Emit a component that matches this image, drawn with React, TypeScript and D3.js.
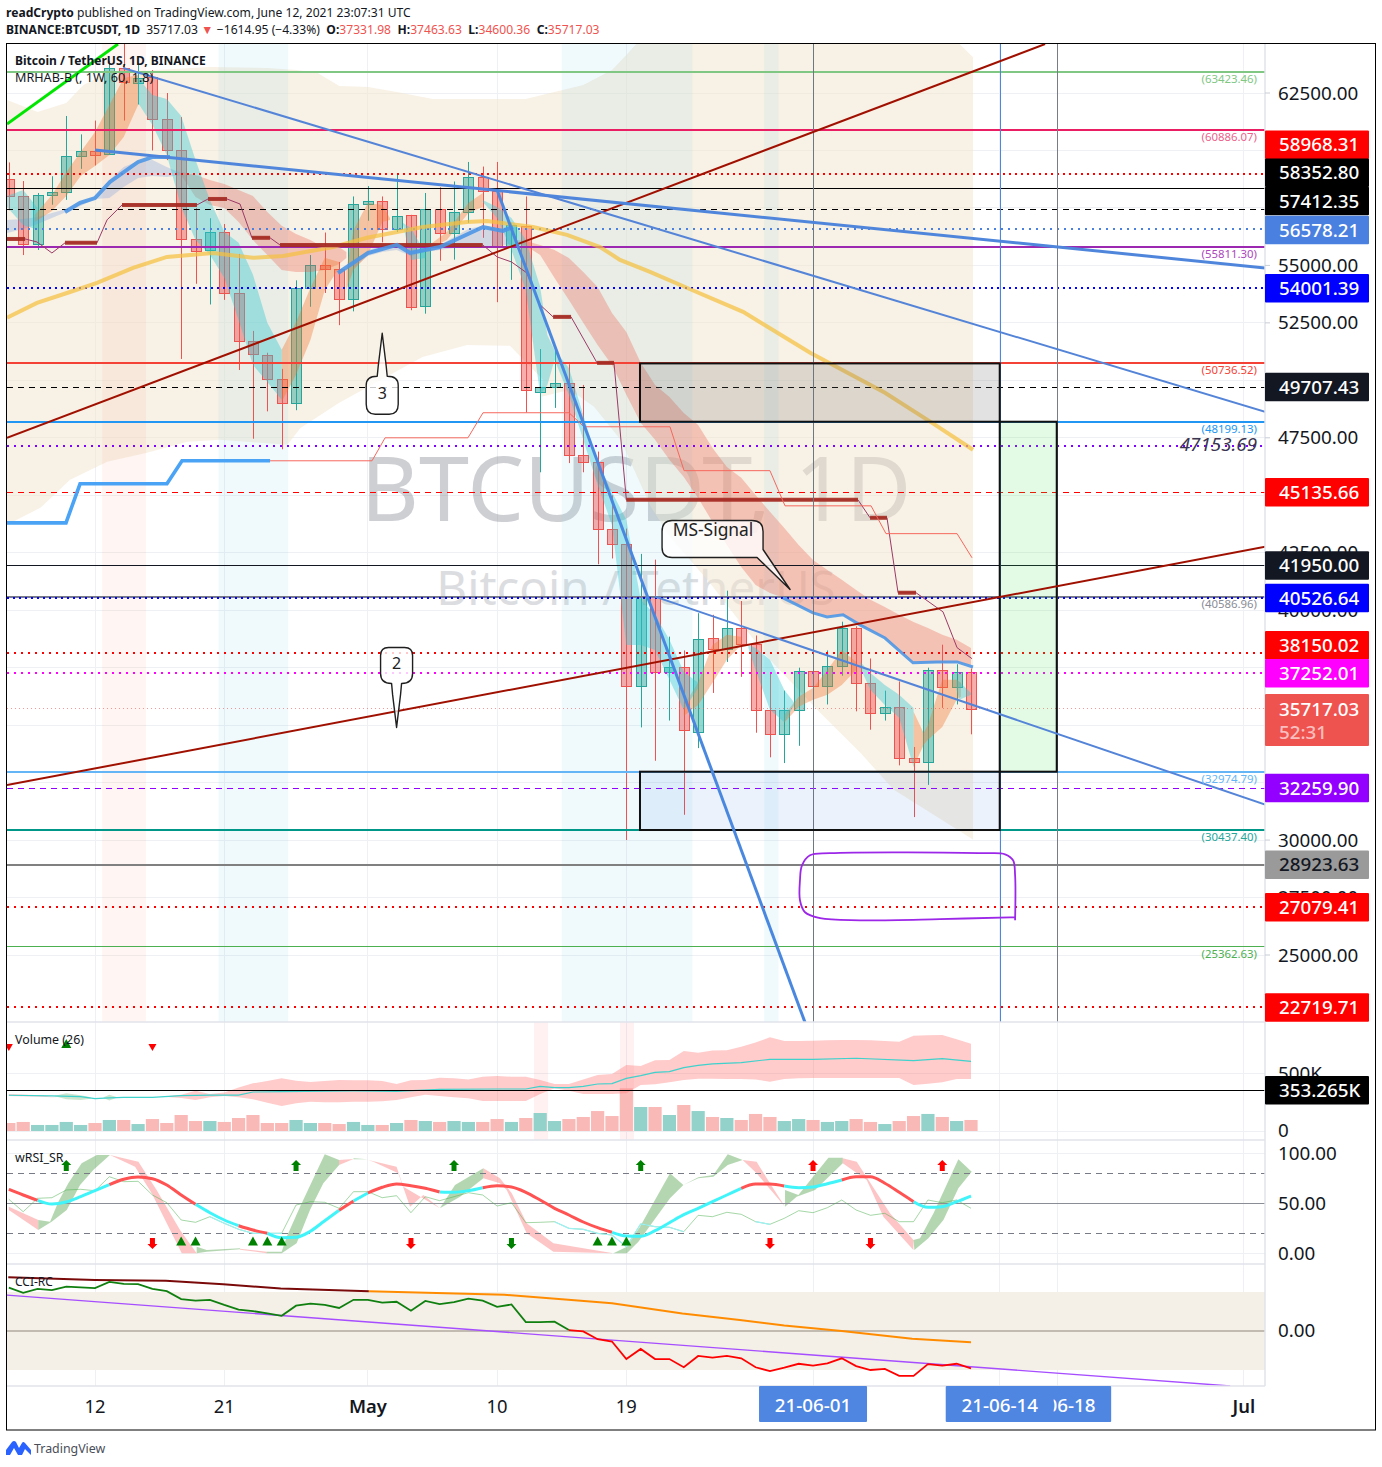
import React from "react";
import * as d3 from "d3";

// ---------- candles (prices in thousands, first candle is day -6, day 0 = 12 Apr)
const firstDay = -6;
const opens = [58.76,58,55.95,58.05,58.2,59.77,59.98,59.84,63.58,62.95,63.2,61.38,60,56.15,55.66,56.47,53.79,51.7,51.11,50.05,49,54,55.03,54.84,53.55,57.69,57.8,56.57,57.2,53.24,57.47,56.39,57.32,58.86,58.24,55.85,56.7,49.5,49.69,49.88,46.76,46.45,43.54,42.9,36.72,40.59,37.3,37.52,34.7,38.8,38.33,39.24,38.53,35.66,34.6,35.67,37.34,36.69,37.57,39.24,36.85,35.52,35.8,33.59,33.4,37.39,36.68,37.332];
const closes = [58,55.95,58.08,58.2,59.77,59.98,59.8,63.59,62.97,63.15,61.38,60,56.15,55.63,56.47,53.79,51.7,51.15,50.05,49,54,55.03,54.84,53.55,57.69,57.8,56.57,57.15,53.2,57.47,56.39,57.31,58.86,58.24,55.85,56.75,49.6,49.69,49.88,46.76,46.45,43.54,42.9,36.72,40.59,37.3,37.53,34.77,38.73,38.3,39.24,38.53,35.66,34.6,35.67,37.34,36.69,37.57,39.24,36.85,35.52,35.8,33.59,33.4,37.39,36.68,37.33,35.717];
const highs = [59.48,58.67,58.15,58.88,61.5,60.7,61.3,63.9,64.85,63.8,63.5,62.5,61.45,57.5,57.05,56.8,55.5,52.15,51.2,50.5,54.35,55.45,56.43,55.15,58,58.45,58,58.99,57.2,58.15,58.4,58.65,59.5,59.3,59.5,56.85,58,51.36,51.4,50.7,49.8,46.9,45,43.55,42.45,42.2,38.85,38.25,39.87,39.8,40.85,40.4,38.9,37.3,36.5,37.5,37.6,38.25,39.5,39.3,37.9,36.5,36.9,34.05,37.5,38.5,37.65,37.464];
const lows = [57.4,55.45,55.67,57.64,57.85,59.2,59.35,59.8,61.3,62,60,59.58,50.93,54.2,53.3,53.5,50.45,47.46,48.65,47,48.7,53.2,53.8,52.4,53,56.94,56,56.45,53.05,52.9,55.2,55.25,56.85,56.2,53.4,54.37,48.6,46,48.8,46.4,46,42,42.25,30,34.9,33.45,35.2,31.1,34,36.4,37.75,37.1,34.67,33.6,33.35,34.1,36.15,35.9,37.15,35.6,34.8,35.2,33.25,31,32.4,35.75,35.9,34.6];

// ---------- ribbons: [day, upper, lower]
type R = number[];
const creamTop: R[] = [[-6.13,62.2],[-4,61.67],[-2,62.07],[-0.8,62.85],[1,63.41],[3,63.46],[8,63.63],[12,63.59],[14,63.5],[15.5,63.37],[17,62.8],[19,62.76],[21,62.54],[23.5,62.24],[26,62.24],[30,62.24],[32,62.54],[34,62.85],[36,63.5],[37,64.15],[38.5,65.2],[59.5,65.2],[60.17,64.65],[61.14,64.05]];
const creamBottom: R[] = [[-6.13,43.72],[-3.8,44.46],[-1.74,45.67],[0.84,46.46],[3.62,46.85],[6.4,47.33],[8.7,47.41],[13.4,47.2],[14.3,47.93],[17,49.02],[22.8,51.02],[25.9,51.54],[28.9,51.5],[31.2,50.02],[31,49.28],[33.07,49.59],[34.75,48.85],[36.6,47.41],[38.7,44.5],[40.04,43.2],[42.8,41.2],[46.8,37.98],[50.5,35.54],[53.3,33.8],[55.6,32.2],[61.14,30.02]];
const tealRibbons: R[][] = [
  [[-6.13,58.02,57.54],[-5,58.28,56.76],[-4,57.5,56.55]],
  [[3,63.15,62.07],[4,62.41,61.11],[5,62.24,59.8],[6,61.5,57.54],[7,59.59,56.11],[8,57.85,55.46],[9,56.46,54.46],[10,55.98,52.63],[11,54.59,50.67],[12,52.5,49.93],[13,51.33,49.15]],
  [[21.45,56.85,56.76],[22,56.63,55.24],[23,55.54,55.32]],
  [[27,57.85,57.76],[28,57.54,57.06],[29,57.06,55.67],[30,56.1,53.93],[31,54.06,49.37],[31.5,51.97,49.8],[32,51.32,50.89],[33,50.54,49.37],[34,48.5,47.41],[35,46.4,45.45],[36,45.14,43.71],[37,43.93,38.49],[38,40.45,38.49],[39,39.8,38.27],[40,38.71,36.97],[41,37.32,35.66],[42,36.84,36.62]],
  [[45.5,38.49,38.36],[46,38.36,37.4],[47,37.84,35.67],[48,36.53,35.13],[48.7,35.97,35.88]],
  [[53.3,37.75,37.49],[54,37.27,36.53],[55,36.75,35.88],[56,36.32,35.32],[57,35.75,33.18]],
  [[60,36.97,36.53],[60.2,36.88,36.1],[61,36.4,36.32]],
];
const orangeRibbons: R[][] = [
  [[-4.2,57.19,56.89],[-3,58.06,57.37],[-2,59.06,58.02],[-1,59.93,58.89],[0,60.8,59.32],[1,61.98,59.8],[2,63.15,60.59],[3,63.28,61.98]],
  [[13,51.33,49.07],[14,52.54,50.24],[15,54.02,51.76],[16,55.33,53.93],[17,55.15,54.89]],
  [[17.5,54.8,53.93],[18,56.54,54.8],[19,57.72,55.45],[20,57.63,56.89],[20.54,57.06,56.97]],
  [[23.5,55.98,55.8],[24.5,56.45,56.1],[26,57.72,57.28],[27,58.15,57.54]],
  [[41,35.88,35.4],[42,36.84,35.88],[43,38.49,36.84],[44,38.93,37.84],[45,38.84,38.49]],
  [[48,35.45,35.1],[49,36.23,35.8],[50,36.62,36.1],[51,37.4,36.32],[52,38.27,36.75],[53,37.75,37.4]],
  [[57,35.58,33.18],[57.7,34.66,34.14],[58,35.01,34.36],[59,36.97,34.92],[60,36.97,36.1],[60.3,36.84,36.23]],
];
const salmonRibbons: R[][] = [
  [[6,59.06,58.93],[7,58.93,57.98],[8,58.72,57.63],[9,58.54,57.5],[10,58.28,56.89],[11,58.02,56.1],[12,57.32,55.45],[13,56.72,54.8],[14,56.37,54.71],[15,56.1,54.71],[16,55.76,54.8],[17,55.8,55.06],[17.5,55.58,55.32]],
  [[29.3,56.1,55.93],[30,56.06,55.85],[31,55.89,55.45],[32,55.67,54.45],[33,55.32,53.5],[34,54.71,52.5],[35,54.06,51.54],[36,52.93,50.67],[37,52.1,49.37],[38,50.76,48.15],[39,49.8,47.41],[40,49.28,46.54],[41,48.58,45.8],[42,48.06,44.88],[43,47.06,43.84],[44,46.23,42.84],[45,45.76,41.88],[46,45.01,41.1],[47,44.28,40.75],[48,43.58,40.53],[49,42.84,40.18],[50,42.18,39.92],[51,41.75,39.75],[52,41.32,39.8],[53,40.88,39.44],[54,40.45,39.14],[55,40.14,38.79],[56,39.8,38.27],[57,39.49,37.75],[58,39.23,37.71],[59,38.93,37.71],[60,38.71,37.75],[61,38.36,37.62]],
];
const blueRibbons: R[][] = [
  [[-6.13,56.98,56.41],[-5,57.02,56.58],[-4,57.11,56.8],[-3,57.28,57.06],[-2,57.45,57.32],[-1,57.71,57.58],[0,57.98,57.89],[1,58.72,57.93],[2,59.28,58.41],[3,59.54,58.8],[4,59.59,58.89],[5,59.28,58.85],[6,59.02,58.93]],
  [[18,55.15,54.89],[19,55.67,55.41],[20,55.85,55.58],[21,55.93,55.67],[22,55.67,55.41],[23,55.8,55.58],[24,55.89,55.67],[25,56.24,55.76],[26,56.58,55.76],[27,56.72,55.76],[28,56.58,55.85],[29,56.72,55.93]],
];
const blueThick: R[][] = [
  [[-2.09,57.32],[-1.04,57.72],[0,57.93],[1.04,58.63],[3,59.5],[4.04,59.72],[5.22,59.72]],
  [[16.92,54.67],[19,55.54],[21.03,55.89],[21.94,55.54],[24.02,55.8],[27.02,56.67],[28.41,56.5],[29.11,56.67]],
  [[47.91,40.54],[50,39.88],[50.98,39.71],[52.09,39.8],[53.27,39.36],[55.01,38.79],[56.96,37.71],[58.63,37.75],[60.03,37.75],[61.14,37.53]],
];
const yellowMA: R[] = [[-6.13,52.72],[-4.04,53.37],[-1.95,53.8],[0.14,54.24],[2.65,54.89],[5.01,55.37],[8.22,55.54],[11,55.33],[13.1,55.41],[16.6,55.8],[18.94,56.2],[22.84,56.67],[25.9,56.89],[27.3,56.93],[30.5,56.67],[32.87,56.33],[35.17,55.8],[36.56,55.24],[38.65,54.72],[41.57,53.93],[45.13,52.98],[49.8,51.2],[55.01,49.46],[58.29,48.15],[61.14,46.98]];
const signalThin: R[] = [[-6.13,56.15],[-4.87,56.15],[-4.04,56.02],[-3,55.54],[-2.09,55.98],[0.14,55.98],[0.84,56.98],[1.88,57.63],[7.1,57.63],[7.87,57.89],[9.19,57.89],[10.1,57.67],[10.93,56.2],[12.19,56.2],[12.88,55.89],[27,55.89],[28,55.37],[29,55.15],[30.08,54.67],[31,53.28],[31.9,52.76],[33.15,52.76],[34.96,50.76],[36.14,50.76],[37,44.8],[53.13,44.8],[53.97,44.02],[55.15,44.02],[55.92,40.76],[57.17,40.76],[58.63,40.11],[59.05,39.93],[60.03,38.37],[61.07,37.89]];
const signalThick: number[][] = [[-6.13,-4.87,56.15],[-2.09,0.14,55.98],[1.88,7.1,57.63],[7.87,9.19,57.89],[10.93,12.19,56.2],[12.88,27,55.89],[31.9,33.15,52.76],[34.96,36.14,50.76],[37,53.13,44.8],[53.97,55.15,44.02],[55.92,57.17,40.76]];
const blueSteps: R[] = [[-6.13,43.8],[-2.02,43.8],[-1.04,45.5],[5.01,45.5],[6.06,46.5],[12.19,46.5]];
const redSteps: R[] = [[12.19,46.5],[19.29,46.5],[20.2,47.5],[25.97,47.5],[27.02,48.59],[33.01,48.59],[34.05,47.98],[40.04,47.98],[41.02,46.07],[47,46.07],[48.05,44.54],[54.04,44.54],[55.08,43.33],[60.03,43.33],[61.07,42.28]];

// ---------- price levels
const levels: [number,string,number,string][] = [
  [63.42346,"#81c784",2,""],[60.88607,"#e91e63",2,""],[58.96831,"#ff0000",2,"2 4"],[58.3528,"#000000",1,""],[57.41235,"#000000",1,"6 5"],[56.57821,"#4a80e0",2,"2 5"],[55.8113,"#9c27b0",2,""],[54.00139,"#0000ff",2,"2 4"],[50.73652,"#f44336",2,""],[49.70743,"#000000",1,"6 5"],[48.19913,"#2196f3",2,""],[47.15369,"#8000ff",2,"2 5"],[45.13566,"#ff0000",1,"6 5"],[41.95,"#131722",1,""],[40.58696,"#787b86",2,""],[40.52664,"#0000ff",2,"2 4"],[38.15002,"#ff0000",2,"2 5"],[37.25201,"#ff00ff",2,"2 5"],[35.71703,"#ef5350",0.6,"1 3"],[32.97479,"#64b5f6",2,""],[32.2599,"#9400ff",1,"6 5"],[30.4374,"#009688",2,""],[28.92363,"#808080",1.5,""],[27.07941,"#ff0000",2,"2 5"],[25.36263,"#4caf50",1.5,""],[22.71971,"#ff0000",2,"2 5"],
];
const levelNotes: [number,string,string][] = [[63.42346,"(63423.46)","#81c784"],[60.88607,"(60886.07)","#ec5f8b"],[55.8113,"(55811.30)","#ab47bc"],[50.73652,"(50736.52)","#f44336"],[48.19913,"(48199.13)","#2196f3"],[40.58696,"(40586.96)","#8a8d96"],[32.97479,"(32974.79)","#64b5f6"],[30.4374,"(30437.40)","#26a69a"],[25.36263,"(25362.63)","#4caf50"]];
const axisTicks = [62.5,55,52.5,47.5,42.5,40,30,27.5,25];
const gridTicks = [62.5,60,57.5,55,52.5,50,47.5,45,42.5,40,37.5,35,32.5,30,27.5,25];
// tag position on the axis (labels are pushed apart so they do not collide), label, background, text colour
const priceTags: [number,string,string,string][] = [
  [60.25,"58968.31","#ff0000","#fff"],[59.03,"58352.80","#000000","#fff"],[57.8,"57412.35","#000000","#fff"],[56.54,"56578.21","#4a80e0","#fff"],[54.00139,"54001.39","#0000ff","#fff"],[49.70743,"49707.43","#131722","#fff"],[45.13566,"45135.66","#ff0000","#fff"],[41.95,"41950.00","#131722","#fff"],[40.52664,"40526.64","#0000ff","#fff"],[38.47,"38150.02","#ff0000","#fff"],[37.25201,"37252.01","#ff00ff","#fff"],[32.2599,"32259.90","#9400ff","#fff"],[28.92363,"28923.63","#9a9a9a","#131722"],[27.07941,"27079.41","#ff0000","#fff"],[22.71971,"22719.71","#ff0000","#fff"],
];
const trendLines: [number,number,number,number,string,number][] = [
  [-6.13,61.15,1.6,64.63,"#00e600",3],[-6.13,47.5,66.16,64.63,"#a01000",2],[-6.13,32.39,81.48,42.76,"#a01000",2],
  [1.95,63.59,81.48,48.63,"#5484d8",2],[0,60.02,81.48,54.89,"#4f86dc",3],[39,40.59,81.48,31.54,"#5484d8",2],[28,58.28,49.44,22.07,"#4a88e0",3],
];
const verticals: [number,string][] = [[50,"#6f7783"],[63,"#4a88e0"],[66.97,"#767c88"]];
const paleBlueBands = [[8.6,13.45],[32.5,41.6],[46.6,47.6]];
const paleRedBand = [0.5,3.55];
const boxes: [number,number,number,number,string][] = [[37.95,50.73652,63,48.19913,"rgba(110,110,110,0.2)"],[37.95,32.97479,63,30.4374,"rgba(40,110,220,0.09)"],[63,48.19913,66.97,32.97479,"rgba(60,230,70,0.14)"]];
const scribble: R[] = [[64.07,26.51],[64.07,28.47],[63.93,29.12],[63.37,29.38],[61.98,29.43],[51.18,29.43],[49.79,29.34],[49.23,28.9],[49.09,28.25],[49.09,27.38],[49.44,26.86],[50.49,26.6],[53.27,26.51],[58.84,26.56],[63.72,26.64],[64.07,26.64]];

// ---------- volume (thousands)
const volumes = [69,78,52,52,78,52,69,95,95,60,103,69,138,86,86,78,112,138,69,69,95,69,69,60,78,52,52,69,95,86,78,86,78,78,103,78,112,155,86,103,121,172,129,368,207,207,138,224,172,121,112,95,147,121,86,103,95,78,86,103,78,60,86,129,147,121,86,95];
const volUp = [0,0,1,1,1,1,0,1,0,1,0,0,0,0,1,0,0,0,0,0,1,1,0,0,1,1,0,1,0,1,0,1,1,0,0,1,0,1,1,0,0,0,0,0,1,0,1,0,1,0,1,0,0,0,1,1,0,1,1,0,0,1,0,0,1,0,1,0];
const volPink: R[] = [[-6,319,302],[-3.8,308,296],[-3,296,290],[-2.6,293,293]];
const volPink2: R[] = [[5,299,293],[6,313,285],[7,348,267],[8,319,290],[9,331,302],[10,374,290],[11,411,273],[12,431,244],[13,454,216],[14,434,239],[15,422,253],[16,431,247],[17,440,247],[18,437,253],[19,437,253],[20,431,256],[21,405,267],[22,437,290],[23,440,313],[24,460,302],[25,454,290],[26,445,282],[27,468,259],[28,474,259],[29,468,259],[30,468,259],[31,440,319],[32,405,368],[33,405,348],[34,445,319],[35,483,319],[36,491,319],[37,569,325],[38,560,397],[39,609,402],[40,612,420],[41,690,440],[42,675,451],[43,693,451],[44,696,448],[45,727,448],[46,762,445],[47,808,425],[48,776,448],[49,776,454],[50,779,457],[51,782,457],[52,785,457],[53,785,457],[54,782,457],[55,776,457],[56,770,457],[57,822,397],[58,825,408],[59,828,420],[60,790,448],[61,753,448]];
const volGreen: R[][] = [[[-2.8,303,300],[-2,325,273],[-1,308,267],[-0.3,290,279]],[[0.6,290,285],[1,313,262],[1.5,293,287]]];
const volMean: R[] = [[-6,308],[-3,302],[-1,296],[0,279],[1,285],[2,290],[4,290],[6,305],[8,310],[10,310],[11,336],[13,339],[18,345],[21,342],[24,359],[28,362],[30,362],[31,385],[32,374],[33,374],[34,385],[35,405],[36,408],[37,454],[38,477],[39,506],[40,512],[41,546],[42,566],[43,578],[45,589],[47,618],[50,618],[53,627],[57,606],[59,624],[61,601]];
const volRedBands = [[30.57,31.55],[36.56,37.53]];
const volMarkers: [number,string,string][] = [[-6,"down","#ff0000"],[-2,"up","#008000"],[4,"down","#ff0000"]];

// ---------- wRSI
const rsiMA = [63.7,58,52.7,49,51,56.3,62.3,68.3,73.7,76,74.3,68,58,48.7,40.3,33,27.3,23,19.7,15.3,15.7,21.7,32.3,42.7,52,60,65.7,69,67.3,64.7,61,60.7,62.3,65.3,67.3,66,60.7,53,44.7,38,31,25.3,20.7,17,16.7,22.3,30.3,38.3,44.7,51.3,58,64.7,69,69,67,65.3,66,69.3,73,76.3,76.3,69.7,60.7,51.3,45.7,46.3,51.3,57];
const rsiTurns = [-4,1,7,10,12,17,18,19,24,27,36,45,48,52,57];
const rsiThin = [53.7,41.3,54.7,55.3,63,63.7,62.3,76.3,71.3,71.7,58,50.3,33,30.7,36.3,29.7,23.7,19.7,19.7,19.7,48,51.3,50.7,44.7,61.3,61.3,55.3,57.3,40.3,56.3,52.3,56.3,60.3,58,47,50.3,30.3,30.7,31.3,24.7,23.7,19.7,18,6.3,29,26.3,25.7,21.3,37.7,36.3,40.7,38.7,31.3,28.7,34.7,42.3,40.3,45.3,53,43,37.7,39.7,31.3,31.3,53,50.3,53,44.7];
const rsiThinCyan = [[8,13],[32,41],[46,47]];
const rsiGreen: R[][] = [
  [[-3.95,33],[-3.13,31.3],[-2.55,51.3],[-1.86,69.7],[-0.93,89.7],[0.12,98],[1.04,98],[-0.12,83],[-1.04,68],[-1.97,43],[-3.02,31.3],[-3.95,23]],
  [[7.08,6.3],[7.78,3],[10.1,4.7],[10.1,3.7],[7.78,1.3],[7.08,-0.3]],
  [[11.95,1.3],[13,1.3],[13.35,16.3],[14.28,46.3],[16,98.7],[17,93],[17,88],[15.9,69.7],[14.97,43],[14.04,9.7],[13,-0.3],[11.95,-0.3]],
  [[18,94.7],[19,93.7],[18,93.7]],
  [[24.02,44.7],[25.07,68],[27.04,84.7],[27.04,74.7],[25.42,56.3]],
  [[36.1,-0.3],[37.03,6.3],[37.95,26.3],[40.04,79.7],[40.97,68],[42.01,75.7],[43.06,78],[44.06,98.7],[45.1,93],[44.06,88],[43.06,76.3],[42.01,74.7],[40.97,68],[40.04,54.7],[37.84,11.3],[37.03,-0.3]],
  [[48.05,63],[48.98,58],[51.07,95.3],[52.07,95.3],[52.07,89.7],[50.14,63],[48.86,56.3],[48.05,46.3]],
  [[56.99,13],[57.45,14.7],[58.39,39.7],[60.12,93.7],[61.05,81.3],[60.12,64.7],[59.08,33],[58.03,14.7],[57.06,3]],
];
const rsiPink: R[][] = [
  [[-6,46.3],[-3.95,33],[-3.95,23],[-6,43]],
  [[1.04,98],[3.02,91.3],[4.29,63],[5.92,23],[7.08,-0.3],[6.04,-0.3],[3.95,59.7],[2.79,86.3]],
  [[10.1,4.3],[11.95,1.3],[11.95,-0.3],[10.1,3.3]],
  [[17,93],[18,94],[17,88]],
  [[19.03,93],[21,86.3],[21.47,66.3],[24.02,44.7],[22.86,58],[21.94,46.3],[21.12,79.7],[19.38,91.3]],
  [[27.04,84.7],[28.2,74.7],[29.02,59.7],[30.06,29.7],[31.92,9.7],[36.1,-0.3],[31.92,1.3],[30.06,19.7],[28.67,63],[28.2,69.7],[27.04,74.7]],
  [[45.1,93],[46.07,91.3],[47,69.7],[48.05,46.3],[46.07,79.7]],
  [[52.07,94.7],[53.04,91.3],[55.36,39.7],[56.99,13],[56.99,3],[54.9,36.3],[53.74,73],[52.07,89.7]],
];
const arrowsUpGreen = [-2,14,25,38];
const arrowsUpRed = [50,59];
const arrowsDownRed = [4,22,47,54];
const arrowsDownGreen = [29];
const trianglesGreen = [6,7,11,12,13,35,36,37];

// ---------- CCI
const cci = [111,98,108,105,114,112,110,126,121,120,108,102,82,78,80,67,55,51,45,39,65,70,67,59,80,80,73,75,52,77,69,74,83,78,62,68,23,23,24,2.5,-1,-21,-27,-72,-46,-72,-72,-93,-64,-68,-64,-70,-93,-103,-94,-84,-89,-83,-70,-90,-100,-97,-115,-115,-85,-89,-84,-96];
const cciTurnDay = 33;
const cciMA: R[] = [[-6.04,138],[0,131],[4.93,129],[8.93,120],[12.93,109],[19.07,102],[28.5,93],[33.4,79],[36,71],[40.9,45],[44.9,28],[48,14],[52,0],[56.9,-20],[61,-29]];
const cciMATurnDay = 19.07;
const cciTrend: R[] = [[-6.13,92],[79.05,-141]];

// ---------- axis labels
const dateTicks: [number,string,boolean][] = [[0,"12",false],[9,"21",false],[19,"May",true],[28,"10",false],[37,"19",false],[80,"Jul",true]];
const dateGrid = [0,9,19,28,37,50,63,67,80];
const dateTags: [number,string][] = [[50,"21-06-01"],[67,"21-06-18"],[63,"21-06-14"]];

// ---------- frame
const L = 7, R_ = 1265, W = 1382, H = 1467;
const mainTop = 44, mainBottom = 1022, volBottom = 1140, rsiBottom = 1264, cciBottom = 1386, frameBottom = 1430;
const FONT = "'Noto Sans', sans-serif";

const x = d3.scaleLinear().domain([0, 61]).range([95, 971]);
const y = d3.scaleLinear().domain([62.5, 25]).range([93, 955]);
const yv = d3.scaleLinear().domain([0, 500]).range([1131, 1073]);
const yr = d3.scaleLinear().domain([0, 100]).range([1253, 1153]);
const yc = d3.scaleLinear().domain([100, -100]).range([1292, 1370]);

const poly = (pts: R[], ys: (v: number) => number) =>
  "M" + pts.map((p) => `${x(p[0])},${ys(p[1])}`).join("L") + "Z";
const lineOf = (ys: (v: number) => number) =>
  d3.line<R>().x((p) => x(p[0])).y((p) => ys(p[1]));
const band = (ys: (v: number) => number) =>
  d3.area<R>().x((p) => x(p[0])).y0((p) => ys(p[2])).y1((p) => ys(p[1]));
const bySeries = (vals: number[]): R[] => vals.map((v, i) => [firstDay + i, v]);

function Txt(p: any) {
  return <text fontFamily={FONT} {...p} />;
}

function Callout({ d, k, kind }: { d: number; k: number; kind: string }) {
  const ax = x(d), ay = y(k);
  let path = "";
  if (kind === "up") {
    path = `M${ax},${ay} L${ax + 4},${ay + 33} L${ax + 5},${ay + 43} Q${ax + 16},${ay + 43} ${ax + 16},${ay + 52} L${ax + 16},${ay + 71} Q${ax + 16},${ay + 81} ${ax + 7},${ay + 81} L${ax - 7},${ay + 81} Q${ax - 16},${ay + 81} ${ax - 16},${ay + 71} L${ax - 16},${ay + 52} Q${ax - 16},${ay + 43} ${ax - 5},${ay + 43} L${ax - 4},${ay + 33} Z`;
  } else if (kind === "down") {
    path = `M${ax},${ay} L${ax - 4},${ay - 33} L${ax - 5},${ay - 44} Q${ax - 16},${ay - 44} ${ax - 16},${ay - 54} L${ax - 16},${ay - 72} Q${ax - 16},${ay - 80} ${ax - 8},${ay - 80} L${ax + 8},${ay - 80} Q${ax + 16},${ay - 80} ${ax + 16},${ay - 72} L${ax + 16},${ay - 54} Q${ax + 16},${ay - 44} ${ax + 5},${ay - 44} L${ax + 4},${ay - 33} Z`;
  } else {
    path = `M${ax},${ay} L${ax - 33},${ay - 32} L${ax - 118},${ay - 32} Q${ax - 128},${ay - 32} ${ax - 128},${ay - 42} L${ax - 128},${ay - 58} Q${ax - 128},${ay - 69} ${ax - 118},${ay - 69} L${ax - 38},${ay - 69} Q${ax - 27},${ay - 69} ${ax - 27},${ay - 58} L${ax - 27},${ay - 40} Z`;
  }
  return <path d={path} fill="rgba(255,255,255,0.78)" stroke="#1f1f1f" strokeWidth={1.4} strokeLinejoin="round" />;
}

const arrowPath = (cx: number, cy: number, up: boolean) => {
  const s = up ? 1 : -1;
  return `M${cx},${cy - 6 * s} L${cx + 5},${cy - 1 * s} L${cx + 2.5},${cy - 1 * s} L${cx + 2.5},${cy + 5 * s} L${cx - 2.5},${cy + 5 * s} L${cx - 2.5},${cy - 1 * s} L${cx - 5},${cy - 1 * s} Z`;
};
const triUp = (cx: number, cy: number) => `M${cx},${cy - 5} L${cx + 5},${cy + 4} L${cx - 5},${cy + 4} Z`;
const triDown = (cx: number, cy: number) => `M${cx - 4},${cy - 3} L${cx + 4},${cy - 3} L${cx},${cy + 4} Z`;

export default function App() {
  const candles = opens.map((o, i) => ({ d: firstDay + i, o, c: closes[i], h: highs[i], l: lows[i] }));
  const volBars = volumes.map((v, i) => ({ d: firstDay + i, v, up: volUp[i] }));
  const creamPath = "M" + creamTop.map((p) => `${x(p[0])},${y(p[1])}`).join("L") + "L" + [...creamBottom].reverse().map((p) => `${x(p[0])},${y(p[1])}`).join("L") + "Z";
  const rsiSeries = bySeries(rsiMA);
  const turns = [firstDay, ...rsiTurns, 61];
  const thinSeries = bySeries(rsiThin);
  const cciSeries = bySeries(cci);
  const ly = lineOf(y), lv = lineOf(yv), lr = lineOf(yr), lc = lineOf(yc);
  const ay = band(y), av = band(yv);
  const tag = (cy: number, h = 28.5) => ({ x: R_, y: cy - h / 2, width: 104, height: h, rx: 1 });
  const scribblePath = d3.line<R>().x((p) => x(p[0])).y((p) => y(p[1])).curve(d3.curveCatmullRom.alpha(0.5));

  return (
    <svg width={W} height={H} style={{ position: "absolute", left: 0, top: 0, background: "#fff" }}>
      <defs>
        <clipPath id="main"><rect x={L} y={mainTop} width={R_ - L} height={mainBottom - mainTop} /></clipPath>
        <clipPath id="vol"><rect x={L} y={mainBottom} width={R_ - L} height={volBottom - mainBottom} /></clipPath>
        <clipPath id="rsi"><rect x={L} y={volBottom} width={R_ - L} height={rsiBottom - volBottom} /></clipPath>
        <clipPath id="cci"><rect x={L} y={rsiBottom} width={R_ - L} height={cciBottom - rsiBottom} /></clipPath>
      </defs>

      {/* header */}
      <Txt x={6} y={17} fontSize={12.1} fill="#131722"><tspan fontWeight={700}>readCrypto</tspan> published on TradingView.com, June 12, 2021 23:07:31 UTC</Txt>
      <Txt x={6} y={34} fontSize={12.1} fill="#131722">
        <tspan fontWeight={700}>BINANCE:BTCUSDT, 1D</tspan>
        <tspan dx={6}>35717.03</tspan>
        <tspan dx={3.5} fill="#ef5350">▼</tspan>
        <tspan dx={3.5}>−1614.95 (−4.33%)</tspan>
        <tspan dx={6.5} fontWeight={700}>O:</tspan><tspan fill="#ef5350">37331.98</tspan>
        <tspan dx={6.5} fontWeight={700}>H:</tspan><tspan fill="#ef5350">37463.63</tspan>
        <tspan dx={6.5} fontWeight={700}>L:</tspan><tspan fill="#ef5350">34600.36</tspan>
        <tspan dx={6.5} fontWeight={700}>C:</tspan><tspan fill="#ef5350">35717.03</tspan>
      </Txt>

      {/* grid */}
      <g stroke="#eef0f3" strokeWidth={1} shapeRendering="crispEdges">
        {gridTicks.map((t) => <line key={t} x1={L} x2={R_} y1={y(t)} y2={y(t)} />)}
        {dateGrid.map((d) => <line key={d} x1={x(d)} x2={x(d)} y1={mainTop} y2={cciBottom} />)}
        <line x1={L} x2={R_} y1={yv(500)} y2={yv(500)} />
        <line x1={L} x2={R_} y1={yv(0)} y2={yv(0)} />
        <line x1={L} x2={R_} y1={yr(100)} y2={yr(100)} />
        <line x1={L} x2={R_} y1={yr(0)} y2={yr(0)} />
      </g>

      {/* main pane */}
      <g clipPath="url(#main)">
        <Txt x={636} y={521} textAnchor="middle" fontSize={90} fill="#787b86" opacity={0.36}>BTCUSDT, 1D</Txt>
        <Txt x={636} y={605} textAnchor="middle" fontSize={47.5} fill="#787b86" opacity={0.25}>Bitcoin / TetherUS</Txt>
        <path d={creamPath} fill="#f1e3cc" fillOpacity={0.5} />
        {paleBlueBands.map((b, i) => <rect key={i} x={x(b[0])} width={x(b[1]) - x(b[0])} y={mainTop} height={mainBottom - mainTop} fill="rgba(130,215,240,0.12)" />)}
        <rect x={x(paleRedBand[0])} width={x(paleRedBand[1]) - x(paleRedBand[0])} y={mainTop} height={mainBottom - mainTop} fill="rgba(255,170,150,0.12)" />

        {/* candles */}
        {candles.map((c) => {
          const col = c.c >= c.o ? "#26a69a" : "#ef5350";
          const cx = Math.round(x(c.d)) + 0.5;
          const top = Math.round(y(Math.max(c.o, c.c))) + 0.5;
          const bot = Math.round(y(Math.min(c.o, c.c))) + 0.5;
          return (
            <g key={c.d}>
              <line x1={cx} x2={cx} y1={y(c.h)} y2={y(c.l)} stroke={col} strokeWidth={1} />
              <rect x={cx - 5} width={10} y={top} height={Math.max(bot - top, 1)} fill={col} fillOpacity={0.47} stroke={col} strokeWidth={1} />
            </g>
          );
        })}

        {/* ribbons */}
        {blueRibbons.map((r, i) => <path key={i} d={ay(r as any)!} fill="rgba(90,140,220,0.24)" />)}
        {salmonRibbons.map((r, i) => <path key={i} d={ay(r as any)!} fill="rgba(235,90,70,0.31)" />)}
        {orangeRibbons.map((r, i) => <path key={i} d={ay(r as any)!} fill="rgba(240,120,50,0.38)" />)}
        {tealRibbons.map((r, i) => <path key={i} d={ay(r as any)!} fill="rgba(50,200,210,0.4)" />)}

        {/* levels */}
        <g shapeRendering="crispEdges">
          {levels.map(([v, col, w, dash]) => <line key={v} x1={L} x2={R_} y1={y(v)} y2={y(v)} stroke={col} strokeWidth={w} strokeDasharray={dash || undefined} />)}
        </g>

        {/* MAs and steps */}
        <path d={ly(yellowMA as any)!} fill="none" stroke="#f5c040" strokeOpacity={0.72} strokeWidth={4} />
        <path d={ly(signalThin as any)!} fill="none" stroke="#9c3a66" strokeWidth={1} />
        {signalThick.map((s, i) => <line key={i} x1={x(s[0])} x2={x(s[1])} y1={y(s[2])} y2={y(s[2])} stroke="#a52a20" strokeOpacity={0.9} strokeWidth={4} />)}
        <path d={ly(blueSteps as any)!} fill="none" stroke="#4aa3f5" strokeWidth={3.6} />
        <path d={ly(redSteps as any)!} fill="none" stroke="#f6685e" strokeWidth={1} />
        {blueThick.map((r, i) => <path key={i} d={ly(r as any)!} fill="none" stroke="#4c96e6" strokeWidth={i === 2 ? 3 : 4} strokeOpacity={0.9} />)}

        {/* verticals */}
        {verticals.map(([d, col]) => <line key={d} x1={Math.round(x(d)) + 0.5} x2={Math.round(x(d)) + 0.5} y1={mainTop} y2={mainBottom} stroke={col} strokeWidth={1} />)}

        {/* drawings */}
        {boxes.map(([a, b, c, e, fill], i) => (
          <rect key={i} x={x(a)} y={y(b)} width={x(c) - x(a)} height={y(e) - y(b)} fill={fill} stroke="#111" strokeWidth={2} />
        ))}
        {trendLines.map(([a, b, c, e, col, w], i) => (
          <line key={i} x1={x(a)} y1={y(b)} x2={x(c)} y2={y(e)} stroke={col} strokeWidth={w} />
        ))}
        <path d={scribblePath(scribble as any)!} fill="none" stroke="#9c27e8" strokeWidth={1.8} strokeLinejoin="round" />

        <Callout d={20} k={52.05} kind="up" />
        <Txt x={x(20)} y={y(49.18)} textAnchor="middle" fontSize={16} fill="#222">3</Txt>
        <Callout d={21} k={34.9} kind="down" />
        <Txt x={x(21)} y={y(37.43)} textAnchor="middle" fontSize={16} fill="#222">2</Txt>
        <Callout d={48.4} k={40.9} kind="ms" />
        <Txt x={713} y={536} textAnchor="middle" fontSize={17.4} fill="#222">MS-Signal</Txt>
        <Txt x={1257} y={451} textAnchor="end" fontSize={18.8} fontStyle="italic" fill="#3a3550">47153.69</Txt>
        {levelNotes.map(([v, s, col]) => <Txt key={s} x={1257} y={y(v) + 11} textAnchor="end" fontSize={11.4} fill={col}>{s}</Txt>)}
      </g>
      <Txt x={15} y={65} fontSize={12} fontWeight={700} fill="#131722">Bitcoin / TetherUS, 1D, BINANCE</Txt>
      <Txt x={15} y={82} fontSize={12.6} fill="#131722">MRHAB-B (, 1W, 60, 1.8)</Txt>

      {/* volume */}
      <g clipPath="url(#vol)">
        {volRedBands.map((b, i) => <rect key={i} x={x(b[0])} width={x(b[1]) - x(b[0])} y={mainBottom} height={volBottom - mainBottom} fill="rgba(255,82,82,0.08)" />)}
        {volBars.map((b) => <rect key={b.d} x={x(b.d) - 6.6} width={13.2} y={yv(b.v)} height={yv(0) - yv(b.v)} fill={b.up ? "#92d2ca" : "#f9b9b7"} />)}
        <path d={av(volPink as any)!} fill="rgba(255,130,130,0.42)" />
        <path d={av(volPink2 as any)!} fill="rgba(255,130,130,0.42)" />
        {volGreen.map((r, i) => <path key={i} d={av(r as any)!} fill="rgba(90,170,90,0.3)" />)}
        <path d={lv(volMean as any)!} fill="none" stroke="#3fd2cc" strokeWidth={1.2} />
        <line x1={L} x2={R_} y1={yv(353.265)} y2={yv(353.265)} stroke="#000" strokeWidth={1} shapeRendering="crispEdges" />
        {volMarkers.map(([d, kind, col], i) => (
          <path key={i} d={kind === "down" ? triDown(x(d), 1047) : triUp(x(d), 1044)} fill={col} />
        ))}
      </g>
      <Txt x={15} y={1044} fontSize={12.4} fill="#131722">Volume (26)</Txt>

      {/* wRSI */}
      <g clipPath="url(#rsi)">
        {rsiGreen.map((r, i) => <path key={i} d={poly(r, yr)} fill="rgba(76,160,70,0.42)" />)}
        {rsiPink.map((r, i) => <path key={i} d={poly(r, yr)} fill="rgba(250,110,110,0.4)" />)}
        <g shapeRendering="crispEdges">
          <line x1={L} x2={R_} y1={yr(80)} y2={yr(80)} stroke="#787b86" strokeWidth={1} strokeDasharray="6 5" />
          <line x1={L} x2={R_} y1={yr(20)} y2={yr(20)} stroke="#787b86" strokeWidth={1} strokeDasharray="6 5" />
          <line x1={L} x2={R_} y1={yr(50)} y2={yr(50)} stroke="#8a8d96" strokeWidth={1} />
        </g>
        <path d={lr(thinSeries as any)!} fill="none" stroke="rgba(76,175,80,0.5)" strokeWidth={1} />
        {rsiThinCyan.map(([a, b], i) => (
          <path key={i} d={lr(thinSeries.filter((p) => p[0] >= a && p[0] <= b) as any)!} fill="none" stroke="#9df1f4" strokeWidth={1.2} />
        ))}
        {turns.slice(0, -1).map((t, i) => {
          const next = turns[i + 1];
          return <path key={i} d={d3.line<R>().x((p) => x(p[0])).y((p) => yr(p[1])).curve(d3.curveMonotoneX)(rsiSeries.filter((p) => p[0] >= t && p[0] <= next) as any)!} fill="none" stroke={i % 2 === 0 ? "#ff5252" : "#40f4fa"} strokeWidth={3} />;
        })}
        {trianglesGreen.map((d) => <path key={d} d={triUp(x(d), 1241.5)} fill="#008000" />)}
        {arrowsUpGreen.map((d) => <path key={d} d={arrowPath(x(d), 1166, true)} fill="#008000" />)}
        {arrowsUpRed.map((d) => <path key={d} d={arrowPath(x(d), 1166, true)} fill="#ff0000" />)}
        {arrowsDownRed.map((d) => <path key={d} d={arrowPath(x(d), 1243, false)} fill="#ff0000" />)}
        {arrowsDownGreen.map((d) => <path key={d} d={arrowPath(x(d), 1243, false)} fill="#008000" />)}
      </g>
      <Txt x={15} y={1162} fontSize={12.4} fill="#131722">wRSI_SR</Txt>

      {/* CCI */}
      <g clipPath="url(#cci)">
        <rect x={L} width={R_ - L} y={yc(100)} height={yc(-100) - yc(100)} fill="#f4efe7" />
        <line x1={L} x2={R_} y1={yc(0)} y2={yc(0)} stroke="#b0aaa0" strokeWidth={1.4} />
        <path d={lc(cciTrend as any)!} fill="none" stroke="#a64dff" strokeWidth={1.4} />
        <path d={lc(cciMA.filter((p) => p[0] <= cciMATurnDay) as any)!} fill="none" stroke="#7a0a0a" strokeWidth={2} />
        <path d={lc(cciMA.filter((p) => p[0] >= cciMATurnDay) as any)!} fill="none" stroke="#ff8c00" strokeWidth={2} />
        <path d={lc(cciSeries.filter((p) => p[0] <= cciTurnDay) as any)!} fill="none" stroke="#0f7f0f" strokeWidth={1.8} />
        <path d={lc(cciSeries.filter((p) => p[0] >= cciTurnDay) as any)!} fill="none" stroke="#ff0000" strokeWidth={1.8} />
      </g>
      <Txt x={15} y={1286} fontSize={12} fill="#131722">CCI-RC</Txt>

      {/* pane separators */}
      <g stroke="#e0e3eb" strokeWidth={1.5}>
        <line x1={L} x2={R_} y1={mainBottom} y2={mainBottom} />
        <line x1={L} x2={R_} y1={volBottom} y2={volBottom} />
        <line x1={L} x2={R_} y1={rsiBottom} y2={rsiBottom} />
        <line x1={L} x2={R_} y1={cciBottom} y2={cciBottom} />
        <line x1={R_} x2={R_} y1={mainTop} y2={cciBottom} />
      </g>

      {/* right axis */}
      {axisTicks.map((t) => (
        <g key={t}>
          <line x1={R_} x2={R_ + 5} y1={y(t)} y2={y(t)} stroke="#c8ccd4" />
          <Txt x={1278} y={y(t) + 6.5} fontSize={18.8} fill="#131722">{(t * 1000).toFixed(2)}</Txt>
        </g>
      ))}
      <Txt x={1278} y={yv(500) + 7} fontSize={18.8} fill="#131722">500K</Txt>
      <Txt x={1278} y={yv(0) + 6} fontSize={18.8} fill="#131722">0</Txt>
      {[100, 50, 0].map((t) => <Txt key={t} x={1278} y={yr(t) + 6.5} fontSize={18.8} fill="#131722">{t.toFixed(2)}</Txt>)}
      <Txt x={1278} y={yc(0) + 6} fontSize={18.8} fill="#131722">0.00</Txt>
      {priceTags.map(([v, s, bg, fg]) => (
        <g key={s}>
          <rect {...tag(y(v))} fill={bg} />
          <Txt x={1279} y={y(v) + 6.6} fontSize={18.8} fill={fg} fontWeight={500}>{s}</Txt>
        </g>
      ))}
      <rect x={R_} y={694} width={104} height={52} rx={1} fill="#ef5350" />
      <Txt x={1279} y={716} fontSize={18.8} fill="#fff" fontWeight={500}>35717.03</Txt>
      <Txt x={1279} y={739} fontSize={18.8} fill="#fff" fillOpacity={0.65} fontWeight={500}>52:31</Txt>
      <rect x={R_} y={1076} width={104} height={28.5} rx={1} fill="#000" />
      <Txt x={1279} y={1096.6} fontSize={18.8} fill="#fff" fontWeight={500}>353.265K</Txt>

      {/* date axis */}
      {dateTicks.map(([d, s, bold]) => (
        <Txt key={s} x={x(d)} y={1412.5} textAnchor="middle" fontSize={18.4} fontWeight={bold ? 600 : 400} fill="#131722">{s}</Txt>
      ))}
      {dateTags.map(([d, s]) => (
        <g key={s}>
          <rect x={x(d) - 54} y={cciBottom} width={108} height={36} rx={1} fill="#4f86e2" />
          <Txt x={x(d)} y={1412} textAnchor="middle" fontSize={18.8} fill="#fff" fontWeight={500}>{s}</Txt>
        </g>
      ))}

      {/* frame */}
      <rect x={6.5} y={43.5} width={1369} height={frameBottom - 43.5} fill="none" stroke="#000" strokeWidth={1} />

      {/* logo */}
      <path d="M6,1455 L6,1450 L12,1442 Q14,1440 16,1442 L19,1448 L22,1443 Q23,1441 25,1443 L31,1450 L31,1455 L25,1449 L22,1455 L18,1455 L14,1448 L10,1455 Z" fill="#2962ff" />
      <Txt x={34} y={1453} fontSize={12.4} fill="#4a4e59">TradingView</Txt>
    </svg>
  );
}
